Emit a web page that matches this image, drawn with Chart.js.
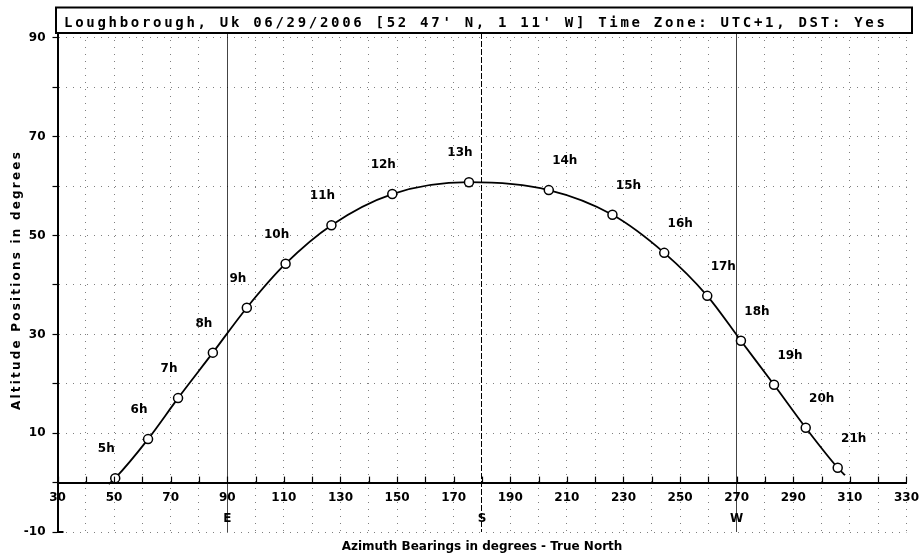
<!DOCTYPE html>
<html><head><meta charset="utf-8">
<script src="https://cdn.jsdelivr.net/npm/chart.js@4/dist/chart.umd.min.js"></script>
<style>html,body{margin:0;padding:0;background:#fff}canvas{display:block}</style>
</head><body>
<canvas id="c" width="924" height="557"></canvas>
<script>
// ---- data ----
const titleText = "Loughborough, Uk 06/29/2006 [52 47' N, 1 11' W] Time Zone: UTC+1, DST: Yes";
const xTitle = 'Azimuth Bearings in degrees - True North';
const yTitle = 'Altitude Positions in degrees';
const hourLabels = ['5h','6h','7h','8h','9h','10h','11h','12h','13h','14h','15h','16h','17h','18h','19h','20h','21h'];
const azimuth  = [50.4, 62.0, 72.6, 84.9, 96.9, 110.6, 126.8, 148.3, 175.4, 203.6, 226.1, 244.4, 259.6, 271.5, 283.2, 294.4, 305.7];
const altitude = [0.9, 8.8, 17.1, 26.3, 35.4, 44.3, 52.1, 58.4, 60.8, 59.2, 54.2, 46.5, 37.8, 28.7, 19.8, 11.1, 3.0];
const pathEndAzimuth  = [48.1, 308.3];   // start / end of the traced path
const pathEndAltitude = [-0.3, 1.5];
const xTickLabels = [30, 50, 70, 90, 110, 130, 150, 170, 190, 210, 230, 250, 270, 290, 310, 330];
const yTickLabels = [-10, 10, 30, 50, 70, 90];
const compassValues = [90, 180, 270];
const compassLabels = ['E', 'S', 'W'];

// ---- build the dataset ----
const pathPoints = [{x: pathEndAzimuth[0], y: pathEndAltitude[0]}]
  .concat(azimuth.map((a, i) => ({x: a, y: altitude[i]})))
  .concat([{x: pathEndAzimuth[1], y: pathEndAltitude[1]}]);

const BOLD = 'bold 12px "DejaVu Sans"';

const decor = {
  id: 'decor',
  afterDraw(chart) {
    const ctx = chart.ctx;
    const xs = chart.scales.x, ys = chart.scales.y, ca = chart.chartArea;
    const y0 = ys.getPixelForValue(0);
    ctx.save();
    // title box
    ctx.strokeStyle = '#000'; ctx.lineWidth = 2;
    ctx.strokeRect(56, 7.5, 856, 25.5);
    ctx.fillStyle = '#000';
    ctx.font = 'bold 14px "DejaVu Sans Mono"';
    ctx.letterSpacing = '2.7px';
    ctx.textAlign = 'left'; ctx.textBaseline = 'alphabetic';
    ctx.fillText(titleText, 64, 26.5);
    ctx.letterSpacing = '0px';
    // small up ticks on the x axis
    ctx.lineWidth = 1.2; ctx.strokeStyle = '#000';
    xs.ticks.forEach(t => {
      const px = Math.round(xs.getPixelForValue(t.value)) + 0.5;
      ctx.beginPath(); ctx.moveTo(px, y0); ctx.lineTo(px, y0 - 6); ctx.stroke();
    });
    // bottom hook of y axis
    ctx.lineWidth = 2;
    ctx.beginPath(); ctx.moveTo(ca.left, ca.bottom); ctx.lineTo(ca.left + 6, ca.bottom); ctx.stroke();
    // axis titles
    ctx.font = BOLD;
    ctx.textAlign = 'center'; ctx.textBaseline = 'middle';
    ctx.fillText(xTitle, (ca.left + ca.right) / 2, 547);
    ctx.save();
    ctx.translate(17, 280);
    ctx.rotate(-Math.PI / 2);
    ctx.letterSpacing = '2.2px';
    ctx.fillText(yTitle, 0, 0);
    ctx.restore();
    // hour labels
    const meta = chart.getDatasetMeta(0);
    ctx.font = BOLD;
    hourLabels.forEach((lab, i) => {
      const el = meta.data[i + 1];
      const dx = azimuth[i] < 180 ? -9 : 16;
      ctx.fillText(lab, el.x + dx, el.y - 29);
    });
    ctx.restore();
  }
};

new Chart(document.getElementById('c'), {
  type: 'line',
  data: {
    datasets: [{
      data: pathPoints,
      borderColor: '#000',
      borderWidth: 1.8,
      cubicInterpolationMode: 'monotone',
      pointRadius: c => (c.dataIndex === 0 || c.dataIndex === pathPoints.length - 1) ? 0 : 4.5,
      pointBackgroundColor: '#fff',
      pointBorderColor: '#000',
      pointBorderWidth: 1.5,
      clip: false
    }]
  },
  options: {
    responsive: false,
    animation: false,
    layout: {padding: {left: 0, right: 15, top: 33, bottom: 25}},
    plugins: {legend: {display: false}, tooltip: {enabled: false}, title: {display: false}},
    scales: {
      x: {
        type: 'linear',
        position: {y: 0},
        min: 30, max: 330,
        afterFit: s => { s.height = 0; },
        afterBuildTicks: s => { s.ticks = []; for (let v = 30; v <= 330; v += 10) s.ticks.push({value: v}); },
        grid: {
          drawTicks: false,
          color: c => (c.tick && (c.tick.value === 90 || c.tick.value === 270)) ? '#444' : (c.tick && c.tick.value === 180 ? '#000' : 'rgba(0,0,0,0.5)'),
          lineWidth: 1
        },
        border: {
          display: true, color: '#000', width: 2,
          dash: c => {
            if (!c.tick) return [];
            if (c.tick.value === 90 || c.tick.value === 270) return [];
            if (c.tick.value === 180) return [6, 2];
            return [1, 6];
          }
        },
        ticks: {
          autoSkip: false, maxRotation: 0, minRotation: 0,
          padding: 5,
          color: '#000',
          font: {family: 'DejaVu Sans', size: 12, weight: 'bold', lineHeight: 1.75},
          callback: v => {
            const k = compassValues.indexOf(v);
            const num = xTickLabels.includes(v) ? String(v) : '';
            return k >= 0 ? [num, compassLabels[k]] : num;
          }
        }
      },
      y: {
        type: 'linear',
        min: -10, max: 91,
        afterFit: s => { s.width = 57.5; },
        afterBuildTicks: s => { s.ticks = []; for (let v = -10; v <= 90; v += 10) s.ticks.push({value: v}); },
        grid: {
          drawTicks: true, tickLength: 5, tickColor: '#000', tickWidth: 1.2,
          color: 'rgba(0,0,0,0.5)', lineWidth: 1
        },
        border: {display: true, color: '#000', width: 2, dash: [1, 6]},
        ticks: {
          padding: 7,
          color: '#000',
          font: {family: 'DejaVu Sans', size: 12, weight: 'bold'},
          callback: v => yTickLabels.includes(v) ? String(v) : ''
        }
      }
    }
  },
  plugins: [decor]
});
</script>
</body></html>
